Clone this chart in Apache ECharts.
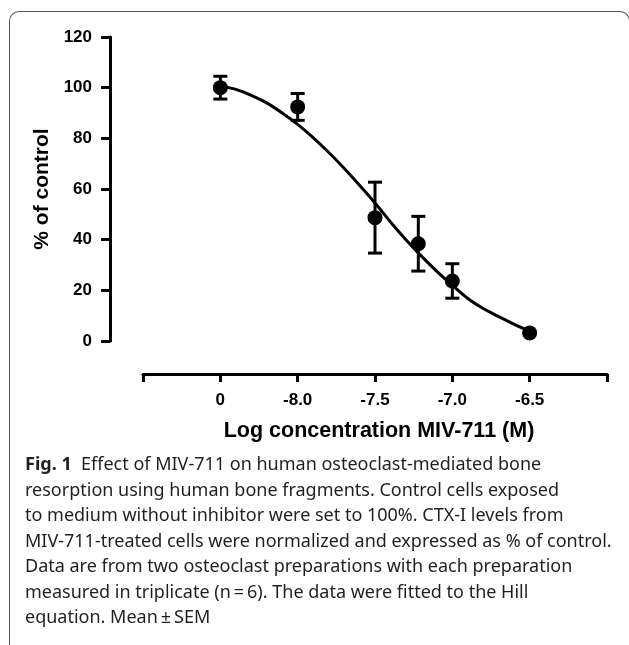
<!DOCTYPE html>
<html>
<head>
    <meta charset="utf-8">
    <title>MIV-711 Hill fit</title>
    <script src="https://cdn.jsdelivr.net/npm/echarts@6/dist/echarts.min.js"></script>
    <style>
        body { margin: 0; background: #fff; }
        #frame {
            position: absolute; left: 9px; top: 11px; width: 621px; height: 700px;
            box-sizing: border-box;
            border: 1px solid #555; border-bottom: none;
            border-radius: 10px 10px 0 0;
        }
        #main { position: absolute; left: 0; top: 0; width: 629px; height: 645px; }
        #caption {
            position: absolute; left: 25px; top: 451px;
            font-family: 'Noto Sans', sans-serif; font-size: 18px; line-height: 25.5px;
            color: #231f20; white-space: nowrap;
        }
    </style>
</head>
<body>
    <div id="frame"></div>
    <div id="main"></div>
    <div id="caption">
        <b>Fig. 1</b>&nbsp;&nbsp;Effect of MIV-711 on human osteoclast-mediated bone<br>
        resorption using human bone fragments. Control cells exposed<br>
        to medium without inhibitor were set to 100%. CTX-I levels from<br>
        MIV-711-treated cells were normalized and expressed as % of control.<br>
        Data are from two osteoclast preparations with each preparation<br>
        measured in triplicate (n&#8201;=&#8201;6). The data were fitted to the Hill<br>
        equation. Mean&#8201;&#177;&#8201;SEM
    </div>
    <script type="text/javascript">
        // measured points (log M), "0" = control drawn at -8.5 on the broken axis
        var doseLog = [-8.5, -8.0, -7.5, -7.22, -7.0, -6.5];
        var meanPct = [100, 92.4, 48.7, 38.4, 23.7, 3.2];
        var semPct = [4.5, 5.3, 14.0, 10.8, 6.8, 0];

        // fitted Hill curve
        var fitLog = [-8.5, -8.4, -8.3, -8.2, -8.1, -8.0, -7.9, -7.8, -7.7, -7.6, -7.5,
                      -7.4, -7.3, -7.2, -7.1, -7.0, -6.9, -6.8, -6.7, -6.6, -6.5];
        var fitPct = [100.8, 99.3, 97.0, 94.0, 90.0, 85.5, 80.3, 74.5, 68.2, 61.5, 54.5,
                      47.0, 40.0, 33.5, 27.5, 22.0, 16.8, 12.8, 9.6, 6.6, 3.8];

        // x tick labels
        var tickValues = [-8.5, -8.0, -7.5, -7.0, -6.5];
        var tickText = ['0', '-8.0', '-7.5', '-7.0', '-6.5'];

        var font = "'Liberation Sans', Arial, sans-serif";

        var pts = doseLog.map(function (x, i) { return [x, meanPct[i]]; });
        var errs = doseLog.map(function (x, i) { return [x, meanPct[i] - semPct[i], meanPct[i] + semPct[i]]; });
        var curve = fitLog.map(function (x, i) { return [x, fitPct[i]]; });

        var myChart = echarts.init(document.getElementById('main'));
        var option = {
            animation: false,
            grid: { left: 143, right: 22, top: 37, bottom: 304 },
            xAxis: {
                type: 'value', min: -9, max: -6, interval: 0.5,
                offset: 33,
                name: 'Log concentration MIV-711 (M)',
                nameLocation: 'middle', nameGap: 46,
                nameTextStyle: { fontFamily: font, fontSize: 21.5, fontWeight: 'bold', color: '#000', padding: [0, 0, 0, 8] },
                splitLine: { show: false },
                axisLine: { onZero: false, lineStyle: { color: '#000', width: 3 } },
                axisTick: { length: 8, lineStyle: { color: '#000', width: 3 } },
                axisLabel: {
                    margin: 18, fontFamily: font, fontSize: 17, fontWeight: 'bold', color: '#000',
                    showMinLabel: true, showMaxLabel: true,
                    formatter: function (v) {
                        for (var i = 0; i < tickValues.length; i++) {
                            if (Math.abs(tickValues[i] - v) < 1e-6) return tickText[i];
                        }
                        return '';
                    }
                }
            },
            yAxis: {
                type: 'value', min: 0, max: 120, interval: 20,
                offset: 33,
                name: '% of control',
                nameLocation: 'middle', nameGap: 49,
                nameTextStyle: { fontFamily: font, fontSize: 21, fontWeight: 'bold', color: '#000' },
                splitLine: { show: false },
                axisLine: { show: true, onZero: false, lineStyle: { color: '#000', width: 3 } },
                axisTick: { show: true, length: 9, lineStyle: { color: '#000', width: 3 } },
                axisLabel: { margin: 18, fontFamily: font, fontSize: 17, fontWeight: 'bold', color: '#000' }
            },
            series: [
                {
                    type: 'line',
                    data: curve,
                    smooth: 0.3,
                    symbol: 'none',
                    lineStyle: { color: '#000', width: 3 },
                    z: 2
                },
                {
                    type: 'custom',
                    data: errs,
                    renderItem: function (params, api) {
                        var x = api.value(0);
                        var lo = api.coord([x, api.value(1)]);
                        var hi = api.coord([x, api.value(2)]);
                        var half = 7;
                        var style = { stroke: '#000', lineWidth: 3 };
                        return {
                            type: 'group',
                            children: [
                                { type: 'line', shape: { x1: lo[0], y1: lo[1], x2: hi[0], y2: hi[1] }, style: style },
                                { type: 'line', shape: { x1: hi[0] - half, y1: hi[1], x2: hi[0] + half, y2: hi[1] }, style: style },
                                { type: 'line', shape: { x1: lo[0] - half, y1: lo[1], x2: lo[0] + half, y2: lo[1] }, style: style }
                            ]
                        };
                    },
                    z: 3
                },
                {
                    type: 'scatter',
                    data: pts,
                    symbol: 'circle',
                    symbolSize: 15,
                    itemStyle: { color: '#000', opacity: 1 },
                    z: 4
                }
            ]
        };
        myChart.setOption(option);
    </script>
</body>
</html>
